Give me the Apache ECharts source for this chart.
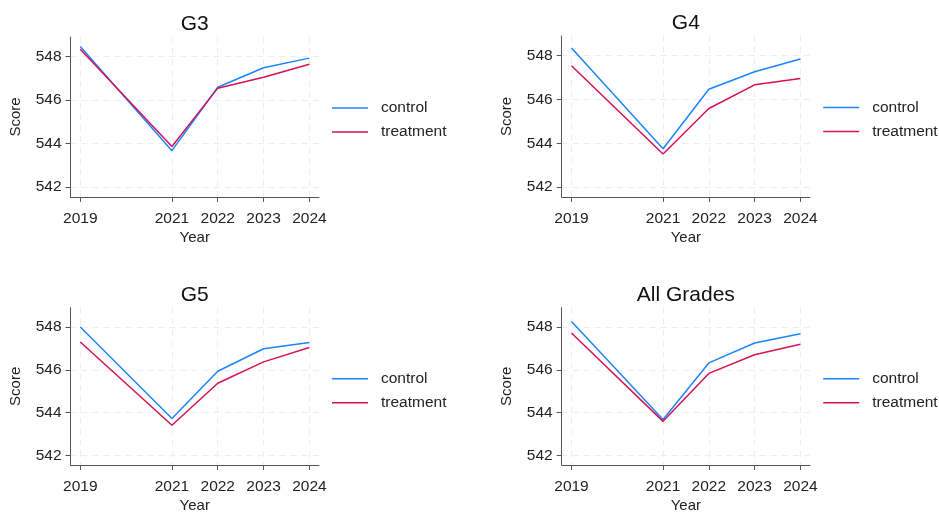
<!DOCTYPE html>
<html>
<head>
<meta charset="utf-8">
<script src="https://cdn.jsdelivr.net/npm/echarts@6/dist/echarts.min.js"></script>
<style>
  html, body { margin: 0; padding: 0; background: #fff; }
  #chart { width: 939px; height: 514px; }
</style>
</head>
<body>
<div id="chart"></div>
<script>
// data
const years = [2019, 2021, 2022, 2023, 2024]
const yTicks = [542, 544, 546, 548]
const panelTitles = ['G3', 'G4', 'G5', 'All Grades']

const g3Control = [548.46, 543.68, 546.59, 547.49, 547.93]
const g3Treatment = [548.34, 543.87, 546.55, 547.05, 547.65]
const g4Control = [548.35, 543.75, 546.47, 547.27, 547.85]
const g4Treatment = [547.54, 543.51, 545.59, 546.67, 546.96]
const g5Control = [548.0, 543.72, 545.93, 546.98, 547.27]
const g5Treatment = [547.30, 543.41, 545.37, 546.37, 547.04]
const allControl = [548.26, 543.68, 546.32, 547.25, 547.68]
const allTreatment = [547.72, 543.59, 545.83, 546.70, 547.19]

const controlSets = [g3Control, g4Control, g5Control, allControl]
const treatmentSets = [g3Treatment, g4Treatment, g5Treatment, allTreatment]

const font = "'Liberation Sans', Arial, Helvetica, sans-serif"
const blue = '#1a85ff'
const red = '#d41159'
const axisColor = '#555'

// panel boxes (plot areas)
const panels = [
  { left: 70.5, top: 37, width: 248.5, height: 160 },
  { left: 561.7, top: 36, width: 248.3, height: 161 },
  { left: 70.5, top: 307.7, width: 248.5, height: 160 },
  { left: 561.7, top: 307.7, width: 248.3, height: 160 }
]

const grid = [], xAxis = [], yAxis = [], series = [], title = [], legend = []

panels.forEach((p, i) => {
  grid.push({ left: p.left, top: p.top, width: p.width, height: p.height, containLabel: false })
  xAxis.push({
    type: 'value', gridIndex: i, min: 2018.786, max: 2024.21,
    name: 'Year', nameLocation: 'middle', nameGap: 33,
    nameTextStyle: { fontFamily: font, fontSize: 15, color: '#222' },
    axisLine: { show: true, onZero: false, lineStyle: { color: axisColor, width: 1 } },
    axisTick: { show: true, length: 5, customValues: years, lineStyle: { color: axisColor } },
    axisLabel: { customValues: years, margin: 14, fontFamily: font, fontSize: 15.5, color: '#222', formatter: v => String(v) },
    splitLine: { show: true, lineStyle: { color: '#ededed', type: [6, 5], width: 1 } }
  })
  yAxis.push({
    type: 'value', gridIndex: i, min: 541.55, max: 548.9,
    name: 'Score', nameLocation: 'middle', nameGap: 47, nameRotate: 90,
    nameTextStyle: { fontFamily: font, fontSize: 15, color: '#222' },
    axisLine: { show: true, onZero: false, lineStyle: { color: axisColor, width: 1 } },
    axisTick: { show: true, length: 5, customValues: yTicks, lineStyle: { color: axisColor } },
    axisLabel: { customValues: yTicks, margin: 9, fontFamily: font, fontSize: 15.5, color: '#222' },
    splitLine: { show: true, lineStyle: { color: '#ededed', type: [6, 5], width: 1 } }
  })
  series.push({
    name: 'control', type: 'line', xAxisIndex: i, yAxisIndex: i,
    data: years.map((y, k) => [y, controlSets[i][k]]),
    symbol: 'none', lineStyle: { color: blue, width: 1.5 }, itemStyle: { color: blue }
  })
  series.push({
    name: 'treatment', type: 'line', xAxisIndex: i, yAxisIndex: i,
    data: years.map((y, k) => [y, treatmentSets[i][k]]),
    symbol: 'none', lineStyle: { color: red, width: 1.5 }, itemStyle: { color: red }
  })
  title.push({
    text: panelTitles[i], left: p.left + p.width / 2, textAlign: 'center',
    top: p.top - 23, padding: 0,
    textStyle: { fontFamily: font, fontSize: 21, fontWeight: 'normal', color: '#111' }
  })
  legend.push({
    data: ['control', 'treatment'], orient: 'vertical', padding: 0,
    left: p.left + 261.5, top: p.top + p.height / 2 - 17,
    icon: 'rect', itemWidth: 36, itemHeight: 1.6, itemGap: 8,
    textStyle: { fontFamily: font, fontSize: 15.5, color: '#222', padding: [0, 0, 0, 8] }
  })
})

const myChart = echarts.init(document.getElementById('chart'), null, { renderer: 'canvas' })
myChart.setOption({
  backgroundColor: '#fff',
  animation: false,
  title, legend, grid, xAxis, yAxis, series
})
</script>
</body>
</html>
